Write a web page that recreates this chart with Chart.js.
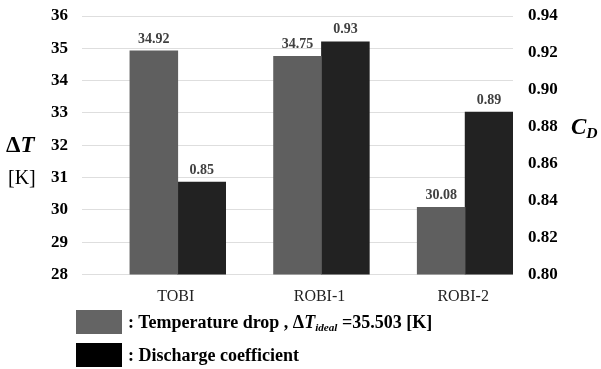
<!DOCTYPE html>
<html>
<head>
<meta charset="utf-8">
<script src="https://cdn.jsdelivr.net/npm/chart.js@4/dist/chart.umd.min.js"></script>
<style>
  html, body { margin: 0; padding: 0; background: #fff; }
  #wrap { position: relative; width: 601px; height: 369px; overflow: hidden; }
  #chart { position: absolute; left: 0; top: 0; }
  .txt {
    position: absolute;
    font-family: "Liberation Serif", "Times New Roman", serif;
    font-weight: bold;
    color: #000;
    white-space: nowrap;
    line-height: 1;
  }
  .swatch { position: absolute; width: 46px; height: 24px; }
  sub { font-size: 62%; vertical-align: -0.25em; line-height: 0; }
</style>
</head>
<body>
<div id="wrap">
  <canvas id="chart" width="601" height="369"></canvas>

  <!-- axis titles -->
  <div class="txt" style="left:6px;top:133px;font-size:23px;">&Delta;<i>T</i></div>
  <div class="txt" style="left:8px;top:167px;font-size:20px;font-weight:normal;">[K]</div>
  <div class="txt" style="left:571px;top:115px;font-size:23px;"><i>C<sub style="font-size:68%">D</sub></i></div>

  <!-- legend -->
  <div class="swatch" style="left:76px;top:310px;background:#646464;"></div>
  <div class="txt" style="left:128px;top:313px;font-size:18px;">: Temperature drop , &Delta;<i>T<sub>ideal</sub></i> =35.503 [K]</div>
  <div class="swatch" style="left:76px;top:343px;background:#000;"></div>
  <div class="txt" style="left:128px;top:346px;font-size:18px;">: Discharge coefficient</div>
</div>

<script>
// 값은 그림에서 읽어온 추정치
const categories = ['TOBI', 'ROBI-1', 'ROBI-2'];
const tempDrop = [34.92, 34.75, 30.08];        // ΔT [K], 왼쪽 축
const dischargeCoef = [0.85, 0.926, 0.888];    // C_D, 오른쪽 축
const tempTicks = [28, 29, 30, 31, 32, 33, 34, 35, 36];
const cdTicks = [0.80, 0.82, 0.84, 0.86, 0.88, 0.90, 0.92, 0.94];

const SERIF = '"Liberation Serif", "Times New Roman", serif';

/** 막대 위에 값 표시 (막대 요소 위치를 그대로 사용) */
const valueLabels = {
  id: 'valueLabels',
  afterDatasetsDraw(chart) {
    const ctx = chart.ctx;
    ctx.save();
    ctx.font = `bold 14px ${SERIF}`;
    ctx.fillStyle = '#404040';
    ctx.textAlign = 'center';
    ctx.textBaseline = 'bottom';
    [1, 2].forEach((di) => {
      const meta = chart.getDatasetMeta(di);
      meta.data.forEach((bar, i) => {
        const v = chart.data.datasets[di].data[i];
        if (v == null) return;
        ctx.fillText(v.toFixed(2), bar.x, bar.y - 5);
      });
    });
    ctx.restore();
  },
};

/** y축 폭 고정 + 라벨 때문에 생기는 위/아래 여백 제거 */
function fixAxis(width) {
  return (s) => {
    s.width = width;
    s.paddingTop = 0;
    s.paddingBottom = 0;
  };
}

new Chart(document.getElementById('chart'), {
  type: 'bar',
  data: {
    labels: categories,
    datasets: [
      // 원본처럼 각 카테고리 왼쪽 칸을 비워두는 빈 시리즈
      { label: '', data: categories.map(() => null), yAxisID: 'y' },
      { label: 'Temperature drop', data: tempDrop, yAxisID: 'y', backgroundColor: '#5f5f5f' },
      { label: 'Discharge coefficient', data: dischargeCoef, yAxisID: 'y1', backgroundColor: '#222222' },
    ],
  },
  options: {
    responsive: false,
    animation: false,
    devicePixelRatio: 1,
    layout: { padding: { top: 16, left: 0, right: 0, bottom: 0 } },
    datasets: { bar: { categoryPercentage: 1, barPercentage: 1 } },
    plugins: { legend: { display: false }, tooltip: { enabled: false } },
    scales: {
      x: {
        grid: { display: false },
        border: { display: false },
        ticks: { color: '#222', padding: 5, labelOffset: 22, font: { family: SERIF, size: 16 } },
        afterFit: (s) => { s.height = 94.5; },
      },
      y: {
        position: 'left',
        min: tempTicks[0],
        max: tempTicks[tempTicks.length - 1],
        afterBuildTicks: (s) => { s.ticks = tempTicks.map((v) => ({ value: v })); },
        grid: { color: '#dedede', drawTicks: false },
        border: { display: false },
        ticks: { color: '#000', padding: 14, font: { family: SERIF, size: 17, weight: 'bold' } },
        afterFit: fixAxis(82),
      },
      y1: {
        position: 'right',
        min: cdTicks[0],
        max: cdTicks[cdTicks.length - 1],
        afterBuildTicks: (s) => { s.ticks = cdTicks.map((v) => ({ value: v })); },
        grid: { display: false, drawTicks: false },
        border: { display: false },
        ticks: {
          color: '#000',
          padding: 15,
          font: { family: SERIF, size: 17, weight: 'bold' },
          callback: (v) => Number(v).toFixed(2),
        },
        afterFit: fixAxis(88),
      },
    },
  },
  plugins: [valueLabels],
});
</script>
</body>
</html>
